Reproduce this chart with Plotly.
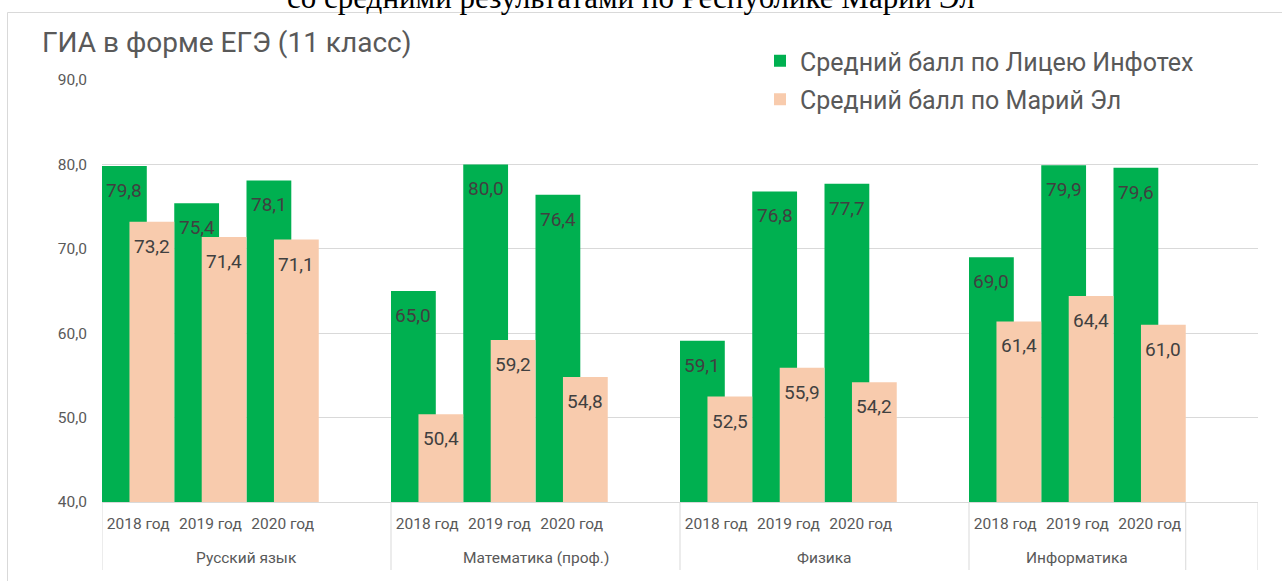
import plotly.graph_objects as go

subjects = ["Русский язык", "Математика (проф.)", "Физика", "Информатика"]
years = ["2018 год", "2019 год", "2020 год"]
lyceum = [79.8, 75.4, 78.1, 65.0, 80.0, 76.4, 59.1, 76.8, 77.7, 69.0, 79.9, 79.6]
mariel = [73.2, 71.4, 71.1, 50.4, 59.2, 54.8, 52.5, 55.9, 54.2, 61.4, 64.4, 61.0]
series_names = ["Средний балл по Лицею Инфотех", "Средний балл по Марий Эл"]
chart_title = "ГИА в форме ЕГЭ (11 класс)"
page_heading = "со средними результатами по Республике Марий Эл"

GREEN = "#00B050"
PEACH = "#F8CBAD"
GRID = "#D9D9D9"
FONT = "Roboto"

W, H = 1282, 581
L, R, T, B = 102, 24, 80, 79
pw, ph = W - L - R, H - T - B

def px_x(p):
    return (p - L) / pw

def px_y(p):
    return (H - B - p) / ph

# slot positions: 4 slots per subject (last one empty)
slots = [g * 4 + i for g in range(len(subjects)) for i in range(len(years))]
tick_text = [y for _ in subjects for y in years]

BW = 0.62
fig = go.Figure()
fig.add_trace(go.Bar(x=slots, y=lyceum, name=series_names[0], marker_color=GREEN,
                     marker_line_width=0, width=BW, offset=-0.5, legendgroup="a"))
fig.add_trace(go.Bar(x=slots, y=mariel, name=series_names[1], marker_color=PEACH,
                     marker_line_width=0, width=BW, offset=0.5 - BW, legendgroup="b"))

label_font = dict(family=FONT, size=19, color="#404040")
annotations = []
for s, v in zip(slots, lyceum):
    annotations.append(dict(x=s - 0.5 + BW / 2, y=v, xref="x", yref="y", text=f"{v:.1f}".replace(".", ","),
                            showarrow=False, yanchor="top", yshift=-11, font=label_font))
for s, v in zip(slots, mariel):
    annotations.append(dict(x=s + 0.5 - BW / 2, y=v, xref="x", yref="y", text=f"{v:.1f}".replace(".", ","),
                            showarrow=False, yanchor="top", yshift=-11, font=label_font))

for g, name in enumerate(subjects):
    center = g * 4 + 1.5 if g < len(subjects) - 1 else g * 4 + 1
    annotations.append(dict(x=center, y=px_y(558), xref="x", yref="paper", text=name,
                            showarrow=False, yanchor="middle",
                            font=dict(family=FONT, size=15.5, color="#595959")))

annotations.append(dict(x=px_x(40), y=px_y(43), xref="paper", yref="paper", text=chart_title,
                        showarrow=False, xanchor="left", yanchor="middle",
                        font=dict(family=FONT, size=28, color="#595959")))
annotations.append(dict(x=px_x(631), y=px_y(17), xref="paper", yref="paper", text=page_heading,
                        showarrow=False, xanchor="center", yanchor="bottom",
                        font=dict(family="Liberation Serif", size=31, color="#000000")))

shapes = []
n_slots = len(subjects) * 4
for xv in [-0.5, 3.5, 7.5, 11.5, 14.5, 15.5]:
    shapes.append(dict(type="line", xref="x", yref="paper", x0=xv, x1=xv, y0=0, y1=px_y(570),
                       line=dict(color=GRID, width=1)))
shapes.append(dict(type="rect", xref="paper", yref="paper", x0=px_x(7.5), x1=px_x(W + 20),
                   y0=px_y(H + 20), y1=px_y(12.5), line=dict(color=GRID, width=1), fillcolor="rgba(0,0,0,0)"))

fig.update_layout(
    width=W, height=H,
    margin=dict(l=L, r=R, t=T, b=B),
    paper_bgcolor="white", plot_bgcolor="white",
    separators=", ",
    barmode="overlay",
    showlegend=True,
    legend=dict(x=px_x(760), y=px_y(38), xanchor="left", yanchor="top",
                font=dict(family=FONT, size=25, color="#595959"),
                bgcolor="rgba(0,0,0,0)", traceorder="grouped", tracegroupgap=3),
    xaxis=dict(range=[-0.5, n_slots - 0.5], tickvals=slots, ticktext=tick_text,
               showgrid=False, zeroline=False, showline=True, linecolor=GRID, linewidth=1,
               ticks="", ticklabelstandoff=7,
               tickfont=dict(family=FONT, size=15.5, color="#595959")),
    yaxis=dict(range=[40, 90], dtick=10, tickformat=".1f", showgrid=True, gridcolor=GRID, gridwidth=1,
               zeroline=False, showline=False, ticks="", ticklabelstandoff=14,
               tickfont=dict(family=FONT, size=15.5, color="#595959")),
    annotations=annotations,
    shapes=shapes,
)

fig.write_html("out.html", config={"displayModeBar": False},
               post_script="document.body.style.margin='0';")
